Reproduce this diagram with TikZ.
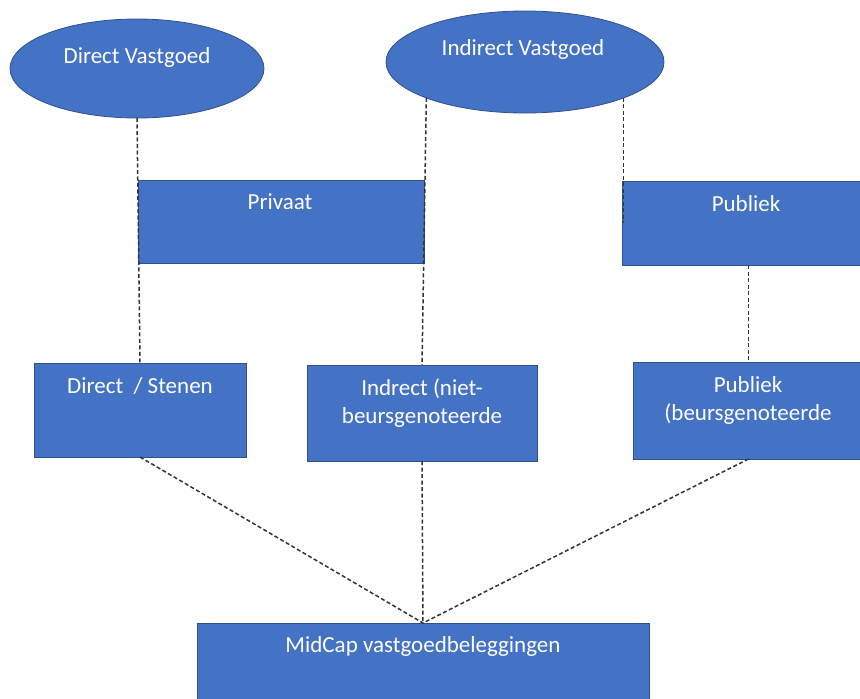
\documentclass[tikz,border=0pt]{standalone}
\usepackage{fontspec}
\setmainfont{Carlito}
\usetikzlibrary{shapes.geometric,calc}
\definecolor{boxblue}{HTML}{4472C4}
\definecolor{boxedge}{HTML}{2F528F}
\begin{document}
\begin{tikzpicture}[x=1pt,y=-1pt,
  shapebox/.style={draw=boxedge,fill=boxblue,line width=0.8pt,inner sep=0pt,outer sep=0pt,rectangle},
  shapeell/.style={draw=boxedge,fill=boxblue,line width=0.8pt,inner sep=0pt,outer sep=0pt,ellipse},
  lbl/.style={text=white,font=\fontsize{23}{28}\selectfont,inner sep=0pt,align=center,anchor=base},
  conn/.style={draw=black!80,line width=1.5pt,dash pattern=on 4pt off 2.5pt}]
\useasboundingbox (0,0) rectangle (860,699);
\fill[white] (0,0) rectangle (860,699);
% shapes
\node[shapeell,minimum width=254pt,minimum height=99pt] (dv) at (137,68.5) {};
\node[shapeell,minimum width=278pt,minimum height=102pt] (iv) at (525,62) {};
\node[shapebox,minimum width=286pt,minimum height=83pt] (priv) at (281,221.5) {};
\node[shapebox,minimum width=242pt,minimum height=84pt] (pub) at (743,223) {};
\node[shapebox,minimum width=212pt,minimum height=94pt] (ds) at (140,410) {};
\node[shapebox,minimum width=230pt,minimum height=96pt] (ind) at (422,413) {};
\node[shapebox,minimum width=231pt,minimum height=97pt] (pb) at (748.5,410.5) {};
\node[shapebox,minimum width=452pt,minimum height=86pt] (mid) at (423,666) {};
% labels
\node[lbl] (dvt) at (137,63) {Direct Vastgoed};
\node[lbl] (ivt) at (523,55) {Indirect Vastgoed};
\node[lbl] (privt) at (280,209) {Privaat};
\node[lbl] (pubt) at (746,211) {Publiek};
\node[lbl] (dst) at (140,393) {Direct\ \ / Stenen};
\node[lbl] (indt) at (422,423) {Indrect (niet-\\beursgenoteerde};
\node[lbl] (pbt) at (748,420) {Publiek\\(beursgenoteerde};
\node[lbl] (midt) at (423,652) {MidCap vastgoedbeleggingen};
% connectors
\draw[conn] (dv.south) -- (ds.north);
\draw[conn] (iv.200) -- (ind.north);
\draw[conn] (iv.340) -- (iv.340 |- pub.west);
\draw[conn] (pb.north |- pub.south) -- (pb.north);
\draw[conn] (ds.south) -- (mid.north);
\draw[conn] (ind.south) -- (mid.north);
\draw[conn] (pb.south) -- (mid.north);
\end{tikzpicture}
\end{document}
